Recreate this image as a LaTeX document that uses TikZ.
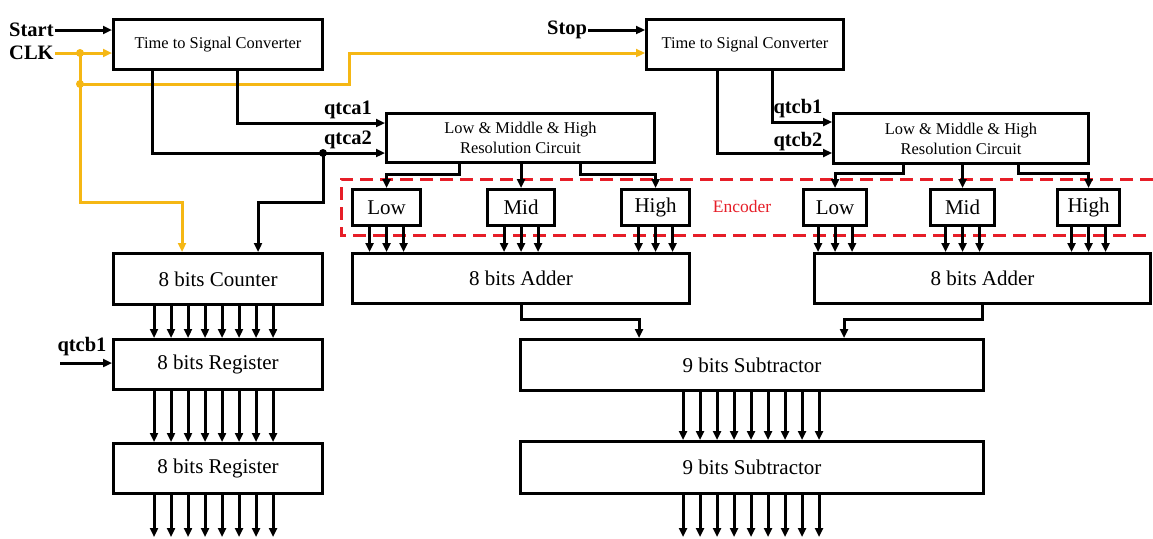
\documentclass[tikz,border=0pt]{standalone}
\usepackage{fontspec}
\setmainfont{Liberation Serif}
\usetikzlibrary{arrows.meta}
\definecolor{clk}{RGB}{245,183,20}
\definecolor{enc}{RGB}{230,30,40}
\begin{document}
\begin{tikzpicture}[x=1pt,y=-1pt,
  box/.style={draw, line width=3pt, inner sep=0pt, anchor=north west, align=center},
  small/.style={font=\fontsize{16.4}{20}\selectfont},
  big/.style={font=\fontsize{21}{24}\selectfont},
  lbl/.style={inner sep=1pt, font=\fontsize{20.5}{22}\selectfont\bfseries},
  wire/.style={line width=3pt},
  arr/.style={wire, -{Triangle[length=9pt,width=8pt]}},
  clkwire/.style={wire, draw=clk},
  clkarr/.style={arr, draw=clk},
  encbox/.style={draw=enc, line width=3pt, dash pattern=on 13pt off 7pt}]
\useasboundingbox (0,0) rectangle (1153,538);

% boxes
\node[box, small, minimum width=209, minimum height=50] (tsc1) at (112,18) {Time to Signal Converter};
\node[box, small, minimum width=197, minimum height=50] (tsc2) at (645,18) {Time to Signal Converter};
\node[box, small, minimum width=268, minimum height=49] (lmh1) at (385,112) {Low \& Middle \& High\\Resolution Circuit};
\node[box, small, minimum width=255, minimum height=50] (lmh2) at (832,112) {Low \& Middle \& High\\Resolution Circuit};
\node[box, big, minimum width=68, minimum height=36] (low1) at (351,188) {Low};
\node[box, big, minimum width=67, minimum height=36] (mid1) at (486,188) {Mid};
\node[box, big, minimum width=68, minimum height=36] (high1) at (620,188) {High};
\node[box, big, minimum width=63, minimum height=36] (low2) at (802,188) {Low};
\node[box, big, minimum width=64, minimum height=36] (mid2) at (929,188) {Mid};
\node[box, big, minimum width=62, minimum height=36] (high2) at (1056,188) {High};
\node[box, big, minimum width=337, minimum height=50] (add1) at (351,252) {8 bits Adder};
\node[box, big, minimum width=336, minimum height=50] (add2) at (813,252) {8 bits Adder};
\node[box, big, minimum width=463, minimum height=51] (sub1) at (519,338) {9 bits Subtractor};
\node[box, big, minimum width=463, minimum height=52] (sub2) at (519,440) {9 bits Subtractor};
\node[box, big, minimum width=209, minimum height=51] (cnt) at (112,252) {8 bits Counter};
\node[box, big, minimum width=209, minimum height=50] (reg1) at (112,338) {8 bits Register};
\node[box, big, minimum width=209, minimum height=50] (reg2) at (112,442) {8 bits Register};

% labels
\node[lbl, anchor=west] (start) at (8,30) {Start};
\node[lbl, anchor=west] (clkl) at (8,53) {CLK};
\node[lbl, anchor=west] (stop) at (546,30) {Stop};
\node[lbl] (qa1) at (348,110) {qtca1};
\node[lbl] (qa2) at (348,140) {qtca2};
\node[lbl] (qb1) at (798,109) {qtcb1};
\node[lbl] (qb2) at (798,142) {qtcb2};
\node[lbl] (qb1r) at (82,347) {qtcb1};
\node[text=enc, font=\fontsize{17.5}{20}\selectfont] (encl) at (742,207) {Encoder};

% encoder region
\draw[encbox] (1153,179) -- (341,179) -- (341,235) -- (1153,235);

% inputs
\draw[arr] (start.east) -- (tsc1.west |- start.east);
\draw[arr] (stop.east) -- (tsc2.west |- stop.east);
\coordinate (d1) at (80,53);
\coordinate (d2) at (80,84);
\coordinate (q1in) at (60,363);
\draw[clkarr] (clkl.east) -- (tsc1.west |- clkl.east);
\draw[clkwire] (d1) -- (d2);
\draw[clkarr] (d2) -- (80,202) -| (cnt.north -| 182,0);
\draw[clkarr] (d2) -| (349,53) -- (tsc2.west |- 0,53);
\fill[clk] (d1) circle (4);
\fill[clk] (d2) circle (4);
\draw[arr] (q1in) -- (reg1.west |- q1in);

% TSC outputs
\draw[arr] (237,0 |- tsc1.south) |- (lmh1.west |- 0,123);
\draw[arr] (152,0 |- tsc1.south) |- (lmh1.west |- 0,153);
\coordinate (d3) at (323,153);
\fill (d3) circle (4);
\draw[arr] (d3) -- (323,202) -| (cnt.north -| 258,0);
\draw[arr] (772,0 |- tsc2.south) |- (lmh2.west |- 0,122);
\draw[arr] (717,0 |- tsc2.south) |- (lmh2.west |- 0,153);

% resolution circuits to encoders
\draw[arr] (459,0 |- lmh1.south) -- (459,174) -| (low1.north);
\draw[arr] (lmh1.south -| mid1.north) -- (mid1.north);
\draw[arr] (580,0 |- lmh1.south) -- (580,174) -| (high1.north);
\draw[arr] (903,0 |- lmh2.south) -- (903,173) -| (low2.north);
\draw[arr] (lmh2.south -| mid2.north) -- (mid2.north);
\draw[arr] (1018,0 |- lmh2.south) -- (1018,173) -| (high2.north);

% encoders to adders
\foreach \b in {low1,mid1,high1,low2,mid2,high2}
  \foreach \dx in {-17,0,17}
    \draw[arr] ([xshift=\dx pt]\b.south) -- ([xshift=\dx pt]\b.south |- add1.north);

% adders to subtractor
\draw[arr] (add1.south) -- ++(0,14) -| (sub1.north -| 639,0);
\draw[arr] (add2.south) -- ++(0,14) -| (sub1.north -| 844,0);

% subtractor buses
\foreach \i in {0,...,8} {
  \draw[arr] (683+17*\i,0 |- sub1.south) -- (683+17*\i,0 |- sub2.north);
  \draw[arr] (683+17*\i,0 |- sub2.south) -- (683+17*\i,537);
}
% counter / register buses
\foreach \i in {0,...,7} {
  \draw[arr] (154+17*\i,0 |- cnt.south) -- (154+17*\i,0 |- reg1.north);
  \draw[arr] (154+17*\i,0 |- reg1.south) -- (154+17*\i,0 |- reg2.north);
  \draw[arr] (154+17*\i,0 |- reg2.south) -- (154+17*\i,537);
}
\end{tikzpicture}
\end{document}
